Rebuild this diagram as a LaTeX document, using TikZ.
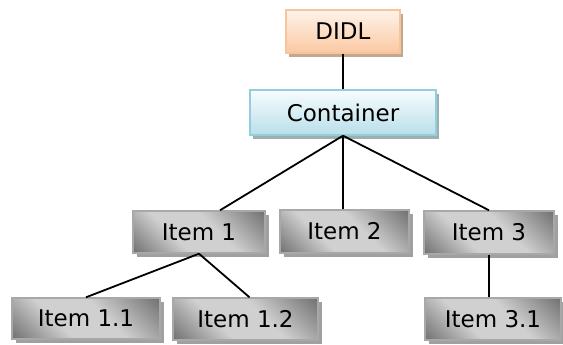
\documentclass[tikz,border=0pt]{standalone}
\usepackage{fontspec}
\setmainfont{DejaVu Sans}
\usetikzlibrary{shadows}

\definecolor{itemdark}{HTML}{6E6E6E}
\definecolor{itemlight}{HTML}{D0D0D0}
\definecolor{itemedge}{HTML}{A8A8A8}
\definecolor{itemshadow}{HTML}{A0A0A0}
\definecolor{rootedge}{HTML}{F9C49A}
\definecolor{roottop}{HTML}{FEF3EA}
\definecolor{rootbottom}{HTML}{FBC8A2}
\definecolor{rootshadow}{HTML}{C2A88E}
\definecolor{contedge}{HTML}{93CEDD}
\definecolor{conttop}{HTML}{F7FCFD}
\definecolor{contbottom}{HTML}{B9DFEA}
\definecolor{contshadow}{HTML}{9FAEB2}

% soft metallic band for the item boxes
\pgfdeclareverticalshading{metalband}{100bp}{%
  color(0bp)=(itemdark); color(14bp)=(itemdark); color(38bp)=(itemlight);
  color(58bp)=(itemlight); color(86bp)=(itemdark); color(100bp)=(itemdark)}

\tikzset{
  box/.style={rectangle, inner sep=0pt, line width=1.4pt,
    font=\fontsize{23}{25}\selectfont, text=black},
  rootbox/.style={box, draw=rootedge, top color=roottop, bottom color=rootbottom,
    drop shadow={shadow xshift=3pt, shadow yshift=-4pt, fill=rootshadow, opacity=1}},
  contbox/.style={box, draw=contedge, top color=conttop, bottom color=contbottom,
    drop shadow={shadow xshift=3pt, shadow yshift=-4pt, fill=contshadow, opacity=1}},
  itembox/.style={box, draw=itemedge, shading=metalband, shading angle=-45,
    drop shadow={shadow xshift=4pt, shadow yshift=-4pt, fill=itemshadow, opacity=1}},
  link/.style={line width=1.8pt, black}
}

\begin{document}
\begin{tikzpicture}[x=1pt, y=-1pt]
  \fill[white] (0,0) rectangle (563,345);
  \useasboundingbox (0,0) rectangle (563,345);

  % root and container
  \node[rootbox, minimum width=114pt, minimum height=43pt] (D) at (343,31.5) {DIDL};
  \node[contbox, minimum width=186pt, minimum height=45pt] (C) at (343,112.5) {Container};

  % first level items
  \node[itembox, minimum width=132pt, minimum height=42pt] (I1) at (199,232) {Item 1};
  \node[itembox, minimum width=129pt, minimum height=43pt] (I2) at (344.5,231.5) {Item 2};
  \node[itembox, minimum width=130pt, minimum height=43pt] (I3) at (489,232.5) {Item 3};

  % second level items
  \node[itembox, minimum width=148pt, minimum height=41pt] (I11) at (86,318.5) {Item 1.1};
  \node[itembox, minimum width=145pt, minimum height=42pt] (I12) at (245.5,319) {Item 1.2};
  \node[itembox, minimum width=136pt, minimum height=42pt] (I31) at (493,319) {Item 3.1};

  % connectors
  \draw[link] (D.south) -- (C.north);
  \draw[link] (C.south) -- ([xshift=21pt]I1.north);
  \draw[link] (C.south) -- (C.south |- I2.north);
  \draw[link] (C.south) -- (I3.north);
  \draw[link] (I1.south) -- (I11.north);
  \draw[link] (I1.south) -- ([xshift=4pt]I12.north);
  \draw[link] (I3.south) -- (I3.south |- I31.north);
\end{tikzpicture}
\end{document}
